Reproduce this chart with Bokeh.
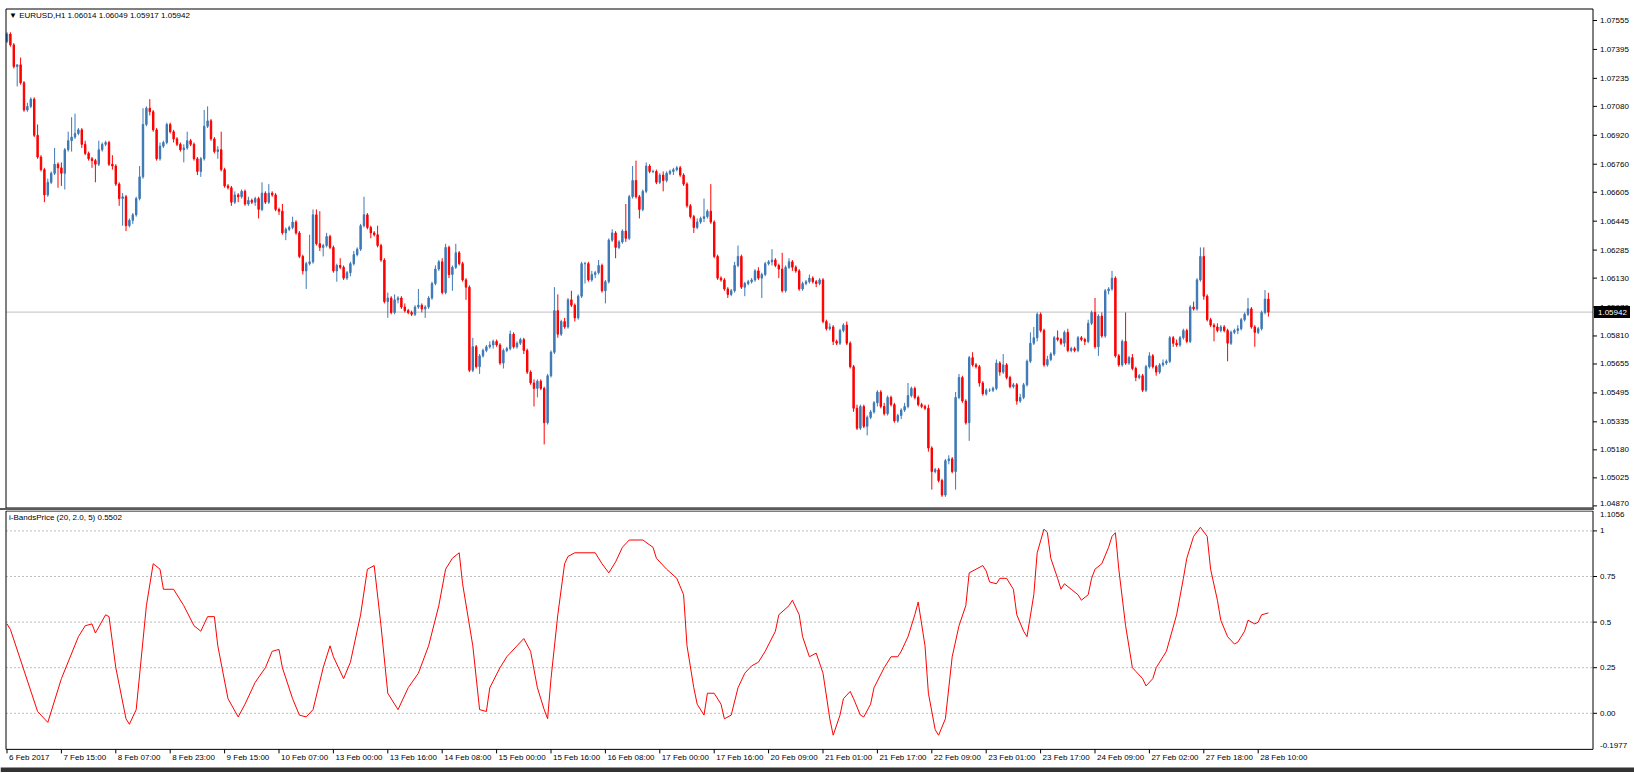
from bokeh.plotting import figure
from bokeh.models import Range1d, ColumnDataSource, Div
from bokeh.layouts import column
from bokeh.core.properties import value
from bokeh.embed import file_html
from bokeh.resources import INLINE

symbol_title = "\u25BC EURUSD,H1  1.06014 1.06049 1.05917 1.05942"
indicator_title = "i-BandsPrice (20, 2.0, 5) 0.5502"
last_price = 1.05942
first_open = 1.0744

close = [
1.0748,1.0742,1.0730,1.0731,1.0721,1.0706,1.0708,1.0712,1.0692,1.0680,
1.0673,1.0659,1.0666,1.0671,1.0676,1.0674,1.0671,1.0684,1.0689,1.0691,
1.0693,1.0695,1.0687,1.0682,1.0679,1.0678,1.0676,1.0684,1.0687,1.0688,
1.0676,1.0675,1.0665,1.0657,1.0658,1.0642,1.0645,1.0648,1.0657,1.0669,
1.0698,1.0707,1.0705,1.0695,1.0679,1.0686,1.0688,1.0698,1.0694,1.0690,
1.0687,1.0684,1.0685,1.0689,1.0687,1.0679,1.0672,1.0679,1.0697,1.0700,
1.0690,1.0683,1.0684,1.0673,1.0664,1.0663,1.0655,1.0659,1.0658,1.0661,
1.0654,1.0656,1.0655,1.0657,1.0651,1.0660,1.0655,1.0660,1.0659,1.0651,
1.0650,1.0638,1.0640,1.0641,1.0644,1.0638,1.0625,1.0617,1.0621,1.0622,
1.0648,1.0632,1.0630,1.0631,1.0636,1.0630,1.0617,1.0620,1.0619,1.0613,
1.0616,1.0621,1.0626,1.0629,1.0642,1.0648,1.0641,1.0638,1.0637,1.0631,
1.0623,1.0600,1.0602,1.0594,1.0601,1.0602,1.0597,1.0595,1.0594,1.0593,
1.0597,1.0598,1.0596,1.0597,1.0602,1.0610,1.0618,1.0622,1.0605,1.0630,
1.0615,1.0619,1.0627,1.0621,1.0612,1.0608,1.0562,1.0575,1.0564,1.0570,
1.0573,1.0575,1.0576,1.0578,1.0576,1.0566,1.0573,1.0574,1.0582,1.0575,
1.0577,1.0579,1.0573,1.0561,1.0555,1.0552,1.0556,1.0552,1.0533,1.0559,
1.0572,1.0595,1.0582,1.0589,1.0586,1.0601,1.0598,1.0591,1.0603,1.0621,
1.0621,1.0612,1.0615,1.0616,1.0620,1.0606,1.0611,1.0634,1.0638,1.0630,
1.0633,1.0639,1.0635,1.0658,1.0667,1.0658,1.0651,1.0661,1.0675,1.0672,
1.0672,1.0666,1.0670,1.0667,1.0671,1.0672,1.0673,1.0674,1.0670,1.0665,
1.0653,1.0647,1.0641,1.0644,1.0646,1.0647,1.0650,1.0644,1.0625,1.0613,
1.0612,1.0607,1.0604,1.0606,1.0620,1.0625,1.0608,1.0610,1.0611,1.0612,
1.0617,1.0613,1.0615,1.0621,1.0622,1.0623,1.0620,1.0618,1.0606,1.0619,
1.0622,1.0619,1.0617,1.0607,1.0610,1.0611,1.0613,1.0611,1.0610,1.0612,
1.0589,1.0585,1.0586,1.0578,1.0577,1.0584,1.0587,1.0577,1.0564,1.0541,
1.0530,1.0542,1.0531,1.0536,1.0539,1.0544,1.0550,1.0542,1.0538,1.0547,
1.0543,1.0534,1.0537,1.0540,1.0542,1.0548,1.0552,1.0547,1.0543,1.0542,
1.0541,1.0519,1.0506,1.0507,1.0501,1.0493,1.0512,1.0513,1.0506,1.0547,
1.0558,1.0545,1.0533,1.0569,1.0565,1.0564,1.0555,1.0549,1.0551,1.0551,
1.0552,1.0566,1.0561,1.0565,1.0558,1.0553,1.0554,1.0545,1.0547,1.0554,
1.0567,1.0577,1.0580,1.0593,1.0584,1.0565,1.0568,1.0571,1.0580,1.0579,
1.0577,1.0583,1.0573,1.0574,1.0573,1.0580,1.0579,1.0578,1.0588,1.0594,
1.0575,1.0592,1.0581,1.0606,1.0607,1.0613,1.0570,1.0565,1.0578,1.0566,
1.0569,1.0563,1.0558,1.0559,1.0551,1.0564,1.0570,1.0564,1.0561,1.0565,
1.0566,1.0567,1.0580,1.0577,1.0576,1.0580,1.0584,1.0578,1.0597,1.0596,
1.0612,1.0625,1.0603,1.0590,1.0587,1.0586,1.0584,1.0586,1.0584,1.0577,
1.0583,1.0584,1.0585,1.0590,1.0593,1.0596,1.0586,1.0583,1.0585,1.0594,
1.06014,1.05942]

# wick lengths above/below the body, in pips
up_wick = [
1,1,1,0,4,1,2,1,1,6,
1,1,2,1,9,1,3,1,5,11,
11,1,1,2,1,1,1,5,1,1,
1,5,1,1,2,1,1,1,1,6,
9,1,5,1,1,2,1,1,1,1,
1,1,2,5,1,1,1,1,9,8,
1,1,2,10,1,1,1,2,1,1,
1,2,1,1,1,6,1,5,1,1,
1,4,1,1,3,1,1,1,1,15,
3,3,18,1,2,1,1,1,4,1,
1,1,2,1,1,10,1,1,1,5,
1,1,3,1,3,1,1,2,1,1,
1,9,1,1,1,1,2,1,2,2,
1,1,5,1,1,1,1,5,1,1,
1,1,2,1,1,1,1,1,2,1,
1,1,1,1,1,2,1,1,1,1,
1,13,9,1,2,1,5,1,1,1,
1,1,2,1,3,1,1,1,2,1,
1,1,15,1,8,11,1,1,2,1,
1,1,1,2,1,1,1,1,1,1,
1,1,1,2,1,10,1,15,1,1,
1,1,1,1,2,6,1,1,1,1,
1,2,1,1,1,6,1,1,9,1,
2,1,1,1,1,1,2,1,1,1,
1,1,2,1,1,1,1,2,1,1,
2,1,1,1,1,1,1,1,2,1,
1,1,1,1,2,7,1,1,1,1,
1,2,1,1,1,1,1,2,1,3,
2,1,1,1,3,1,1,1,1,1,
1,2,1,6,1,1,1,1,2,1,
1,6,6,1,1,1,2,1,1,4,
1,1,2,1,1,1,1,1,2,1,
8,1,2,1,1,4,1,1,1,16,
1,2,1,1,1,1,2,1,1,1,
2,1,1,1,2,1,1,1,1,3,
1,5,5,1,1,1,2,1,1,1,
1,1,2,1,1,6,1,1,1,1,
5,3.5]

down_wick = [
1,1,1,11,1,1,1,1,1,1,
1,4,1,1,1,11,7,9,1,6,
1,1,2,1,1,4,10,1,1,1,
1,2,1,4,15,3,1,2,1,1,
1,1,2,1,1,1,1,1,1,2,
1,1,7,1,1,1,2,3,1,1,
1,1,4,1,1,1,2,1,3,1,
1,1,1,2,5,1,1,1,1,1,
2,1,4,1,1,1,1,2,10,1,
1,1,2,5,1,1,1,6,1,1,
1,2,1,1,1,1,1,3,1,1,
1,1,9,1,1,2,1,1,1,1,
1,1,2,5,1,1,1,1,1,1,
2,9,1,1,1,7,1,1,1,4,
1,1,1,2,1,1,3,1,1,1,
1,1,2,1,1,10,5,1,12,1,
1,1,2,1,1,1,1,2,1,1,
11,1,1,2,1,1,7,1,1,6,
1,1,2,1,1,1,5,1,1,1,
1,1,1,6,1,1,2,1,1,1,
1,1,3,1,1,2,1,1,1,1,
1,1,2,1,1,1,1,5,1,1,
1,1,11,1,1,2,1,5,1,1,
1,2,1,1,1,1,1,1,2,1,
1,1,1,2,1,1,1,1,1,2,
1,1,1,5,1,1,2,1,1,1,
1,1,1,2,1,1,1,1,1,1,
1,2,10,1,1,1,1,2,1,10,
1,1,1,10,1,1,2,1,1,1,
1,1,2,1,1,1,1,2,1,1,
1,1,1,2,1,1,1,1,1,1,
1,2,1,1,1,1,1,2,1,1,
1,5,1,1,2,1,1,1,1,1,
1,1,2,1,1,1,1,1,2,1,
1,1,1,2,1,1,1,1,1,1,
1,1,2,1,1,8,1,1,1,10,
1,1,2,1,1,1,1,8,1,1,
1,2.5]

ind_bar = [0,1,9,12,16,21,23,25,26,29,
30,32,35,36,38,41,43,45,46,49,
52,55,57,59,61,62,65,68,70,73,
76,78,80,81,84,86,88,90,93,95,
96,99,101,104,106,108,110,112,115,118,
121,124,127,129,131,133,134,137,139,141,
142,145,147,150,152,154,156,158,159,160,
162,164,165,167,170,173,175,177,179,181,
183,187,190,191,194,197,199,200,202,203,
205,206,208,210,211,213,215,217,219,221,
223,226,227,230,231,233,234,236,238,240,
242,243,245,246,248,249,251,252,254,255,
258,260,262,263,265,267,268,270,271,273,
274,276,278,280,282,283,285,287,288,289,
291,292,294,296,297,299,300,302,303,305,
306,307,309,310,311,313,315,316,318,319,
320,322,324,325,326,327,329,331,332,334,
335,337,338,340,341,344,346,347,349,351,
353,354,356,357,359,361,362,364,365,367,
368,369,371]
ind_val = [0.49,0.46,0.01,-0.05,0.19,0.42,0.48,0.49,0.44,0.54,
0.53,0.25,-0.03,-0.06,0.02,0.59,0.82,0.79,0.68,0.68,
0.59,0.48,0.45,0.53,0.53,0.37,0.08,-0.02,0.05,0.17,
0.25,0.34,0.35,0.25,0.08,-0.01,-0.02,0.02,0.25,0.37,
0.31,0.19,0.28,0.54,0.79,0.81,0.48,0.11,0.02,0.14,
0.22,0.37,0.59,0.79,0.85,0.88,0.71,0.37,0.02,0.01,
0.14,0.25,0.31,0.37,0.41,0.34,0.14,0.02,-0.03,0.19,
0.54,0.82,0.86,0.88,0.88,0.88,0.82,0.77,0.83,0.91,
0.95,0.95,0.91,0.85,0.79,0.74,0.65,0.37,0.14,0.05,
-0.01,0.11,0.11,0.05,-0.03,-0.01,0.14,0.22,0.26,0.28,
0.34,0.45,0.54,0.59,0.62,0.54,0.42,0.31,0.33,0.22,
-0.03,-0.12,-0.01,0.08,0.12,0.08,-0.01,-0.02,0.05,0.14,
0.25,0.31,0.31,0.34,0.42,0.54,0.61,0.37,0.11,-0.09,
-0.12,-0.03,0.31,0.48,0.59,0.77,0.79,0.81,0.78,0.72,
0.71,0.74,0.74,0.68,0.54,0.45,0.42,0.65,0.88,1.01,
0.99,0.85,0.74,0.68,0.71,0.68,0.65,0.62,0.65,0.74,
0.79,0.82,0.91,0.97,0.99,0.79,0.48,0.25,0.23,0.19,
0.15,0.19,0.25,0.31,0.34,0.54,0.74,0.85,0.97,1.02,
0.97,0.79,0.62,0.51,0.42,0.38,0.39,0.45,0.51,0.49,
0.50,0.54,0.5502]

price_ticks = [1.07555,1.07395,1.07235,1.07080,1.06920,1.06760,1.06605,1.06445,1.06285,
               1.06130,1.05970,1.05810,1.05655,1.05495,1.05335,1.05180,1.05025,1.04870]
ind_ticks = [1, 0.75, 0.5, 0.25, 0]
ind_tick_labels = ["1", "0.75", "0.5", "0.25", "0.00"]
ind_top, ind_bottom = 1.1056, -0.1977
date_labels = ["6 Feb 2017","7 Feb 15:00","8 Feb 07:00","8 Feb 23:00","9 Feb 15:00","10 Feb 07:00",
               "13 Feb 00:00","13 Feb 16:00","14 Feb 08:00","15 Feb 00:00","15 Feb 16:00","16 Feb 08:00",
               "17 Feb 00:00","17 Feb 16:00","20 Feb 09:00","21 Feb 01:00","21 Feb 17:00","22 Feb 09:00",
               "23 Feb 01:00","23 Feb 17:00","24 Feb 09:00","27 Feb 02:00","27 Feb 18:00","28 Feb 10:00"]
bars_per_label = 16

n = len(close)
assert len(up_wick) == n and len(down_wick) == n and len(ind_bar) == len(ind_val)
opens = [first_open] + close[:-1]
highs = [max(o, c) + u * 0.0001 for o, c, u in zip(opens, close, up_wick)]
lows = [min(o, c) - d * 0.0001 for o, c, d in zip(opens, close, down_wick)]
BULL, BEAR = "#3d79b6", "#ff0000"
src = ColumnDataSource(dict(
    x=list(range(n)), top=[max(o, c) for o, c in zip(opens, close)],
    bottom=[min(o, c) for o, c in zip(opens, close)], high=highs, low=lows,
    color=[BULL if c >= o else BEAR for o, c in zip(opens, close)]))

# ---- geometry (pixels; the page starts at 0,0) ----
W = 1634
H1, H2 = 508, 262
SEP = 2
PXX = 3.4                     # pixels per bar
X0 = -6.5 / PXX               # bar 0 sits at x = 6.5 px
x_range = Range1d(X0, X0 + W / PXX)
XL = X0 + 5.5 / PXX           # left border
XE = X0 + 1592.5 / PXX        # right border / price scale line
XR = X0 + W / PXX

PXY1 = 18078.0                # px per price unit
P_TOP = 1.07555 + 20 / PXY1   # 1.07555 sits at y = 20 px
P_BOT = P_TOP - H1 / PXY1
B_TOP = P_TOP - 8.5 / PXY1
B_BOT = P_BOT + 0.5 / PXY1

PXY2 = 182.4                  # px per indicator unit
Y0_PX = 712.8 - (H1 + SEP)    # y of value 0 inside the indicator figure
Y2_TOP = Y0_PX / PXY2
Y2_BOT = Y2_TOP - H2 / PXY2
I_TOP = Y2_TOP - 0.5 / PXY2

FONT = value("Liberation Sans")
FS = value("8px")
TXT = dict(text_font=FONT, text_font_size=FS)

# ---- main price pane ----
p1 = figure(width=W, height=H1, x_range=x_range, y_range=Range1d(P_BOT, P_TOP),
            output_backend="svg", toolbar_location=None, x_axis_location=None,
            y_axis_location=None, min_border=0)
p1.outline_line_color = None
p1.grid.visible = False

p1.segment(x0=[XL], y0=[last_price], x1=[XE], y1=[last_price], line_color="#c0c0c0", line_width=1)
p1.segment(x0="x", y0="low", x1="x", y1="high", color="color", line_width=1, source=src)
p1.vbar(x="x", top="top", bottom="bottom", width=0.42, fill_color="color", line_color="color",
        line_width=1, source=src)
p1.quad(left=[XL], right=[XE], top=[B_TOP], bottom=[B_BOT],
        fill_color=None, line_color="black", line_width=1)
p1.segment(x0=[XE] * len(price_ticks), y0=price_ticks, x1=[XE + 4 / PXX] * len(price_ticks),
           y1=price_ticks, line_color="black", line_width=1)
label_shift = [0] * (len(price_ticks) - 1) + [-2]
p1.text(x=[XE] * len(price_ticks), y=price_ticks, text=[f"{t:.5f}" for t in price_ticks],
        x_offset=7, y_offset=label_shift, text_baseline="middle", text_align="left",
        text_color="black", **TXT)
p1.quad(left=[XE + 1 / PXX], right=[XE + 37 / PXX], top=[last_price + 6 / PXY1],
        bottom=[last_price - 6 / PXY1], fill_color="black", line_color=None)
p1.text(x=[XE], y=[last_price], text=[f"{last_price:.5f}"], x_offset=5, text_baseline="middle",
        text_align="left", text_color="white", **TXT)
p1.text(x=[XL], y=[B_TOP], text=[symbol_title], x_offset=3, y_offset=2, text_baseline="top",
        text_align="left", text_color="black", **TXT)

sep = Div(width=1594, height=SEP, margin=(0, 0, 0, 0), styles={"background-color": "#5a5a5a"})

# ---- indicator pane ----
p2 = figure(width=W, height=H2, x_range=x_range, y_range=Range1d(Y2_BOT, Y2_TOP),
            output_backend="svg", toolbar_location=None, x_axis_location=None,
            y_axis_location=None, min_border=0)
p2.outline_line_color = None
p2.grid.visible = False

p2.segment(x0=[XL] * len(ind_ticks), y0=ind_ticks, x1=[XE] * len(ind_ticks), y1=ind_ticks,
           line_color="#bdbdbd", line_width=1, line_dash="2 2")
p2.line(ind_bar, ind_val, line_color="#ff0000", line_width=1)
p2.quad(left=[XL], right=[XE], top=[I_TOP], bottom=[ind_bottom],
        fill_color=None, line_color="black", line_width=1)
p2.segment(x0=[XE] * len(ind_ticks), y0=ind_ticks, x1=[XE + 4 / PXX] * len(ind_ticks),
           y1=ind_ticks, line_color="black", line_width=1)
p2.text(x=[XE] * len(ind_ticks), y=ind_ticks, text=ind_tick_labels, x_offset=7,
        text_baseline="middle", text_align="left", text_color="black", **TXT)
p2.text(x=[XE, XE], y=[ind_top, ind_bottom], text=[f"{ind_top}", f"{ind_bottom}"],
        x_offset=7, y_offset=[0, -1], text_baseline=["top", "bottom"], text_align="left",
        text_color="black", **TXT)
p2.text(x=[XL], y=[I_TOP], text=[indicator_title], x_offset=3, y_offset=2, text_baseline="top",
        text_align="left", text_color="black", **TXT)
date_ticks = [i * bars_per_label for i in range(len(date_labels))]
p2.segment(x0=date_ticks, y0=[ind_bottom] * len(date_ticks), x1=date_ticks,
           y1=[ind_bottom - 4 / PXY2] * len(date_ticks), line_color="black", line_width=1)
p2.text(x=date_ticks, y=[ind_bottom] * len(date_ticks), text=date_labels, x_offset=2, y_offset=4,
        text_baseline="top", text_align="left", text_color="black", **TXT)
# dark window edge at the very bottom
p2.quad(left=[X0], right=[XR], top=[Y2_BOT + 5 / PXY2], bottom=[Y2_BOT],
        fill_color="#333333", line_color=None)

layout = column(p1, sep, p2, spacing=0)
open("out.html", "w").write(file_html(layout, INLINE, "EURUSD,H1"))
